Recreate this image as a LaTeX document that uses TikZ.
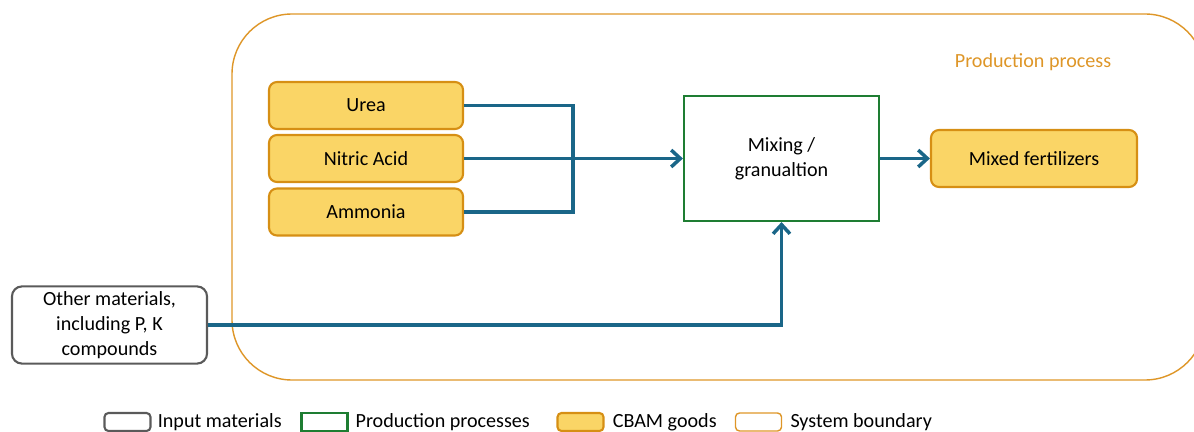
\documentclass[tikz,border=0pt]{standalone}
\usepackage{fontspec}
\setmainfont{Carlito}
\usetikzlibrary{arrows.meta,positioning}
\definecolor{cbamfill}{HTML}{FAD566}
\definecolor{cbamedge}{HTML}{D68F14}
\definecolor{procgreen}{HTML}{1E7D32}
\definecolor{flowblue}{HTML}{1A6688}
\definecolor{inputgray}{HTML}{5A5A5A}
\definecolor{sysorange}{HTML}{DE9628}
\tikzset{
  cbam/.style={draw=cbamedge, fill=cbamfill, line width=1.5pt, rounded corners=0.2cm, align=center},
  proc/.style={draw=procgreen, line width=1.5pt, align=center},
  inmat/.style={draw=inputgray, line width=1.5pt, rounded corners=0.25cm, align=center},
  flow/.style={draw=flowblue, line width=2.5pt},
  legtext/.style={inner sep=0pt, anchor=west}
}
\begin{document}
\begin{tikzpicture}[x=0.025cm, y=-0.025cm, >={Straight Barb[length=6.5pt,width=12pt]},
  every node/.style={font=\fontsize{14.3pt}{18pt}\selectfont}]
\useasboundingbox (0,0) rectangle (1194,432);
\clip (0,0) rectangle (1194,432);
% system boundary
\draw[sysorange, line width=1pt, rounded corners=1.5cm] (232,14) rectangle (1205,380);
\node[text=sysorange] (title) at (1033,62) {Production process};
% boxes
\node[cbam, minimum width=4.85cm, minimum height=1.175cm] (urea) at (366,105.5) {Urea};
\node[cbam, minimum width=4.85cm, minimum height=1.175cm] (nitric) at (366,158.5) {Nitric Acid};
\node[cbam, minimum width=4.85cm, minimum height=1.175cm] (ammonia) at (366,212) {Ammonia};
\node[proc, minimum width=4.875cm, minimum height=3.125cm] (mixing) at (781.5,158.5) {Mixing /\\granualtion};
\node[cbam, minimum width=5.15cm, minimum height=1.425cm] (mixed) at (1034,158.5) {Mixed fertilizers};
\node[inmat, minimum width=4.875cm, minimum height=1.8cm] (other) at (109.5,325) {Other materials,\\including P, K\\compounds};
% flows
\coordinate (bus) at (573,212);
\draw[flow] (urea.east) -| (bus) -- (ammonia.east);
\draw[flow,->] (nitric.east) -- (mixing.west);
\draw[flow,->] (mixing.east) -- (mixed.west);
\draw[flow,->] (other.east) -| (mixing.south);
% legend
\node[inmat, rounded corners=0.1cm, minimum width=1.15cm, minimum height=0.45cm] (leginput) at (127.5,422) {};
\node[legtext, right=0.15cm of leginput] (leginputtext) {Input materials};
\node[proc, minimum width=1.15cm, minimum height=0.45cm] (legproc) at (324.5,422) {};
\node[legtext, right=0.17cm of legproc] (legproctext) {Production processes};
\node[cbam, rounded corners=0.1cm, minimum width=1.15cm, minimum height=0.45cm] (legcbam) at (580.5,422) {};
\node[legtext, right=0.2cm of legcbam] (legcbamtext) {CBAM goods};
\node[draw=sysorange, line width=1pt, rounded corners=0.1cm, minimum width=1.15cm, minimum height=0.45cm] (legsys) at (758.5,422) {};
\node[legtext, right=0.2cm of legsys] (legsystext) {System boundary};
\end{tikzpicture}
\end{document}
